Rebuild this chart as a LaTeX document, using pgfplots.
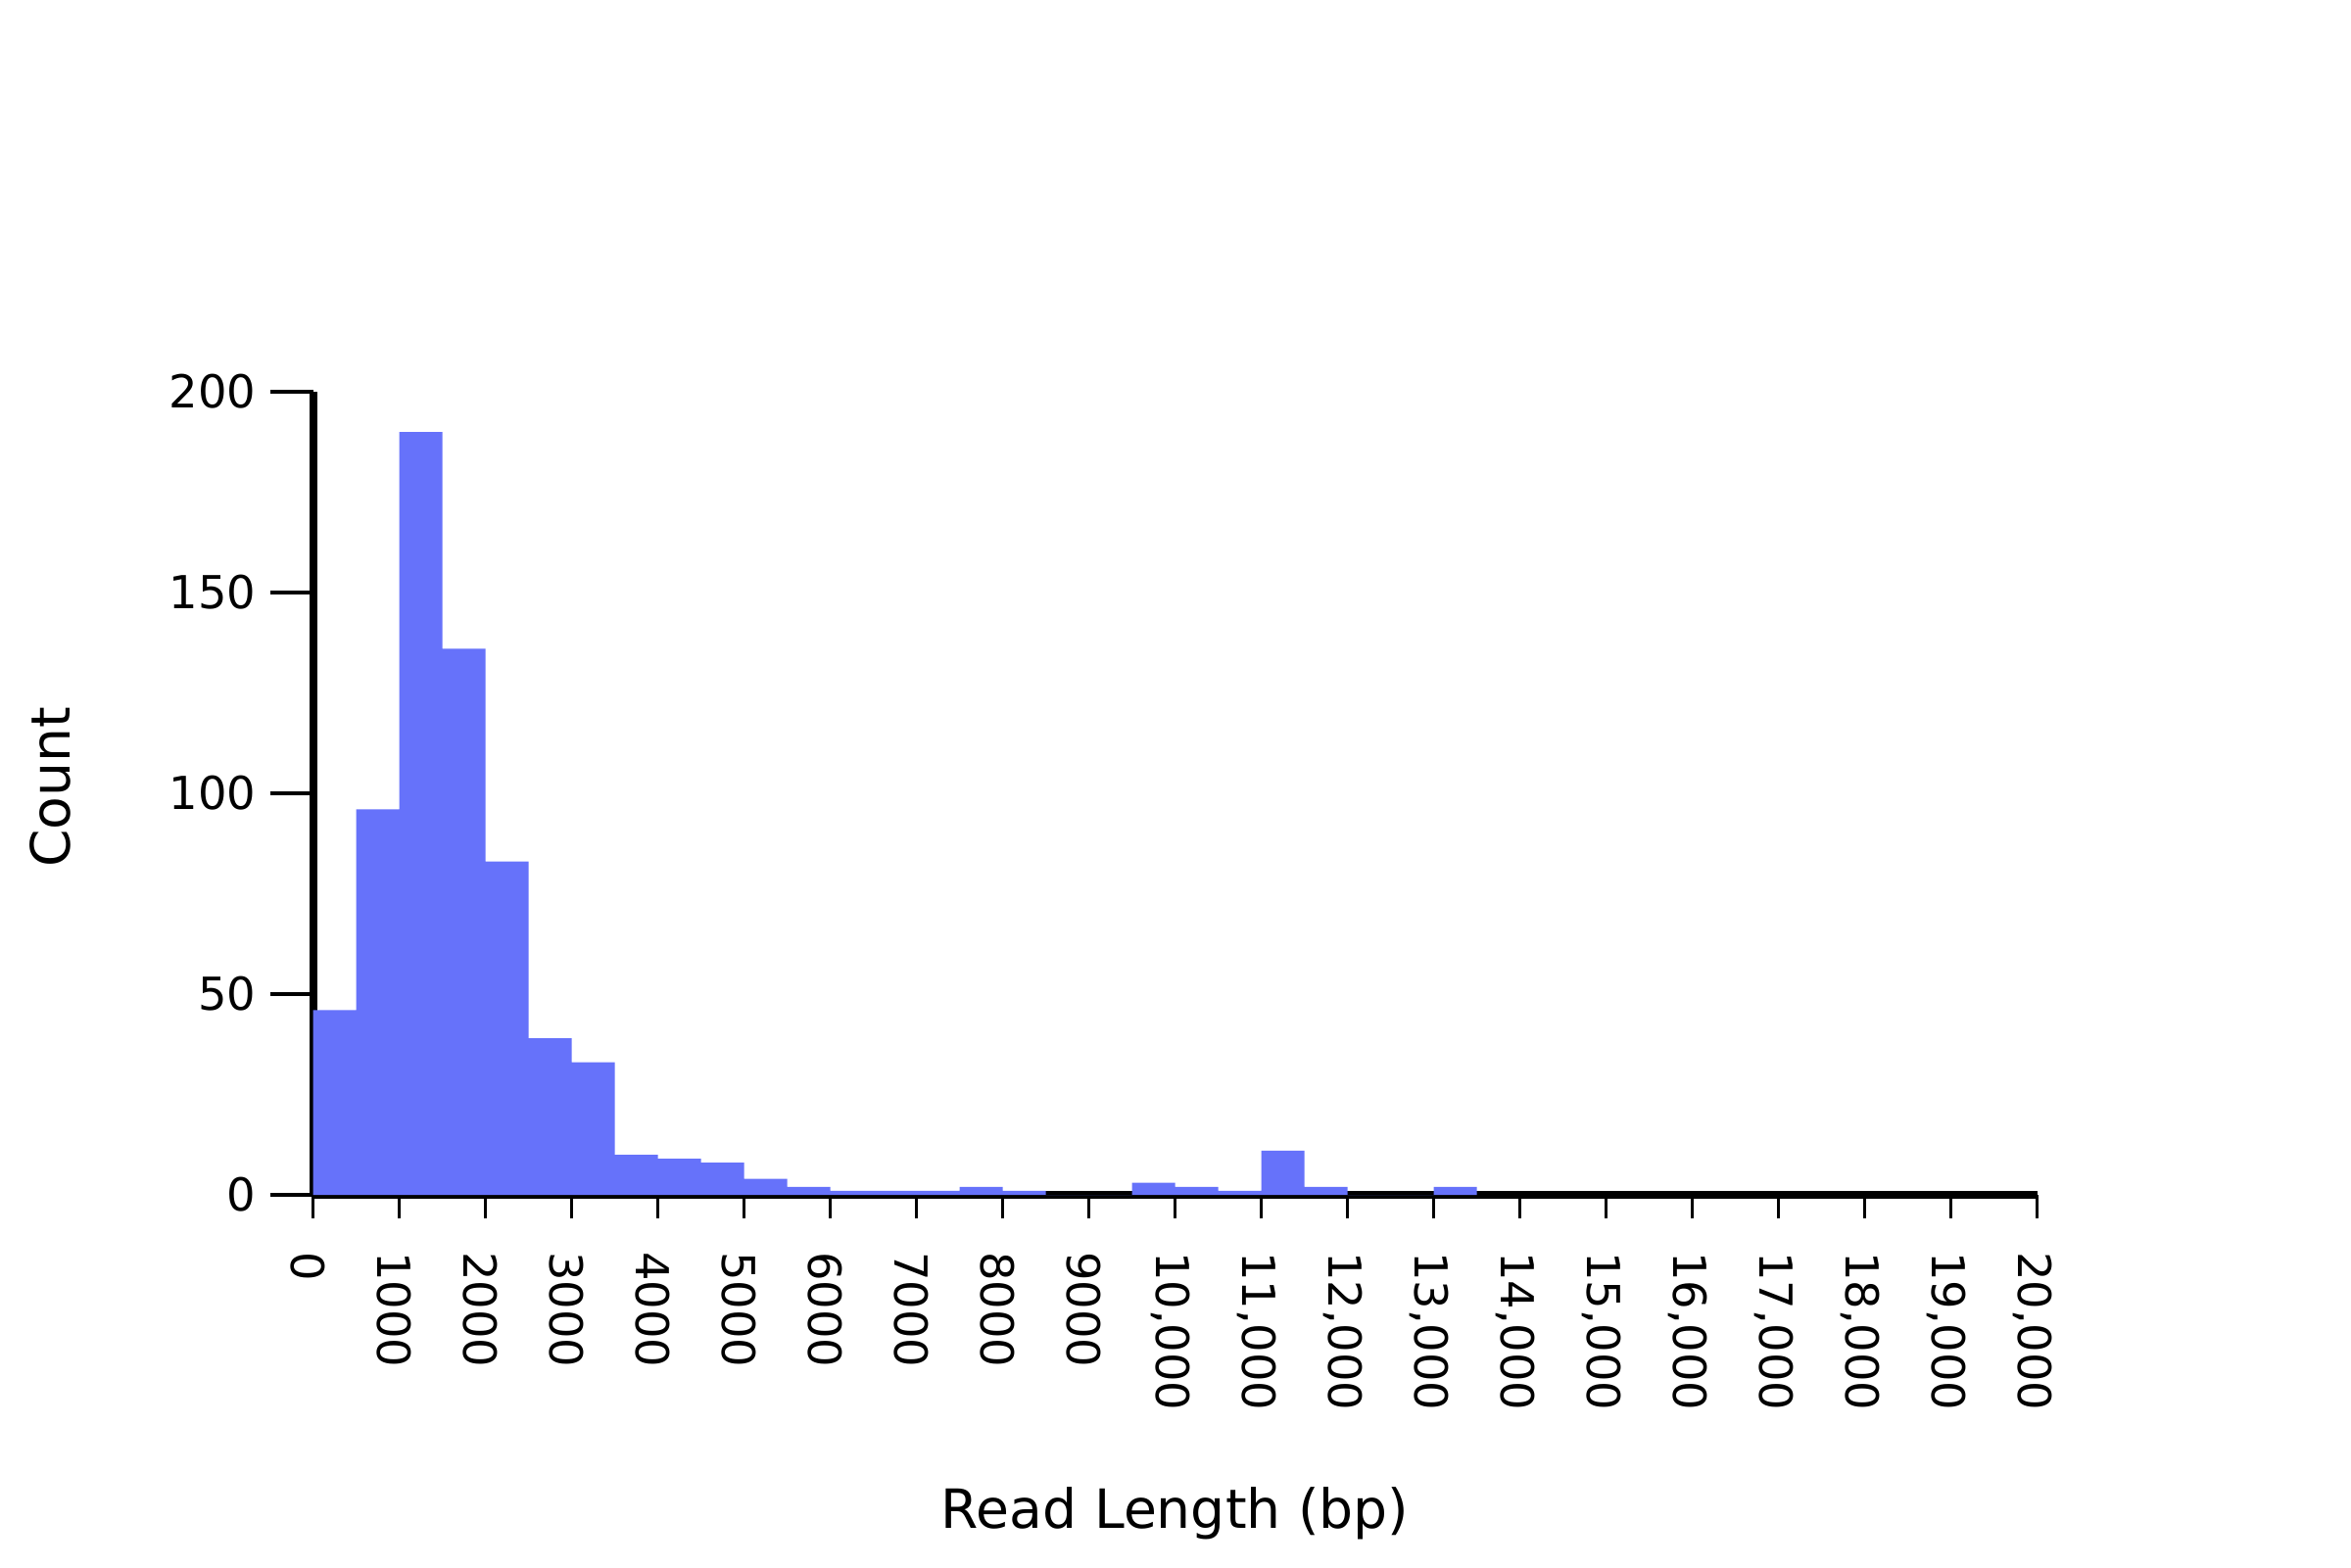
\documentclass[border=0pt]{standalone}
\usepackage{pgfplots}
\pgfplotsset{compat=1.18}
\usepackage{fontspec}
\setmainfont{DejaVu Sans}
\definecolor{barblue}{RGB}{102,114,250}

\begin{document}
\begin{tikzpicture}
  \begin{axis}[
    set layers=standard,
    scale only axis,
    width=440pt, height=205pt,
    xmin=0, xmax=20000,
    ymin=0, ymax=200,
    axis x line*=bottom,
    axis y line*=left,
    axis line style={line width=2pt, black},
    tick align=outside,
    major tick length=11pt,
    tick style={line width=0.8pt, black},
    xtick style={/pgfplots/major tick length=6pt},
    scaled x ticks=false,
    xtick={0,1000,...,20000},
    xticklabels={0,1000,2000,3000,4000,5000,6000,7000,8000,9000,
      {10,000},{11,000},{12,000},{13,000},{14,000},{15,000},{16,000},
      {17,000},{18,000},{19,000},{20,000}},
    xticklabel style={rotate=-90, anchor=west, yshift=-1.2pt,
      font=\fontsize{11.6}{13}\selectfont},
    ytick={0,50,100,150,200},
    yticklabel style={font=\fontsize{11.6}{13}\selectfont},
    /pgf/number format/assume math mode=true,
    xlabel={Read Length (bp)},
    ylabel={Count},
    xlabel style={at={(axis description cs:0.5,0)}, anchor=base, yshift=-85pt,
      font=\fontsize{13.8}{16}\selectfont},
    % the label is turned by 90 degrees, so yshift moves it left
    ylabel style={at={(axis description cs:0,0.5)}, anchor=center,
      yshift=67pt, xshift=1.5pt, font=\fontsize{13.8}{16}\selectfont},
  ]
    \addplot[ybar interval, fill=barblue, draw=none] coordinates {
      (0,46) (500,96) (1000,190) (1500,136) (2000,83) (2500,39)
      (3000,33) (3500,10) (4000,9) (4500,8) (5000,4) (5500,2)
      (6000,1) (6500,1) (7000,1) (7500,2) (8000,1) (8500,0)
      (9000,0) (9500,3) (10000,2) (10500,1) (11000,11) (11500,2)
      (12000,0) (12500,0) (13000,2) (13500,0)
    };
  \end{axis}
  % fixes the page to the reference's 2400x1600 proportions (1px = 0.25pt)
  \pgfresetboundingbox
  \path[use as bounding box] (-79.9pt,-95pt) rectangle (520.1pt,305pt);
\end{tikzpicture}
\end{document}
